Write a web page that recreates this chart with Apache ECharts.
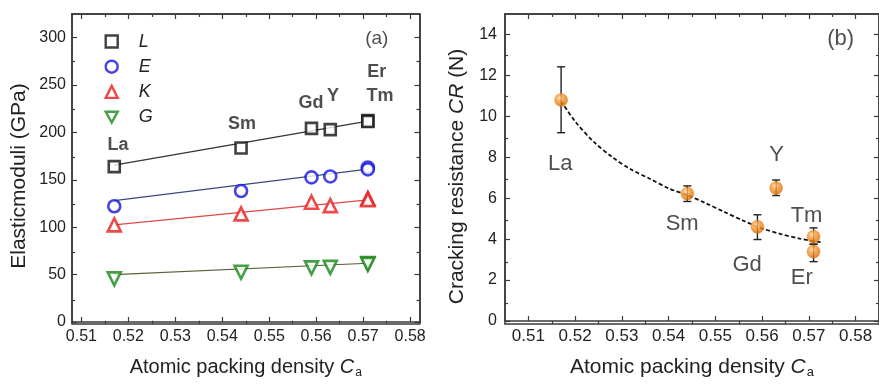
<!DOCTYPE html>
<html>
<head>
<meta charset="utf-8">
<script src="https://cdn.jsdelivr.net/npm/echarts@6/dist/echarts.min.js"></script>
<style>
  html, body { margin: 0; padding: 0; background: #fff; }
  #chart { width: 879px; height: 384px; }
</style>
</head>
<body>
<div id="chart"></div>
<script>
// panel (a): elastic moduli vs atomic packing density
const elemA = ["La", "Sm", "Gd", "Y", "Er", "Tm"];
const packA = [0.517, 0.544, 0.559, 0.563, 0.571, 0.571];
const modL = [164, 183.6, 204.3, 203, 212.5, 211.5];
const modE = [122.1, 138.2, 152.6, 153.6, 163, 161];
const modK = [102.5, 114.1, 126.4, 122.8, 130.5, 129];
const modG = [45.5, 52.5, 57.1, 57.6, 61.6, 60.8];

// linear fits drawn in (a), read at their two ends
const fitX = [0.517, 0.571];
const fitL = [165.5, 212];
const fitE = [128, 161.3];
const fitK = [102.5, 128.8];
const fitG = [50, 62];

// element labels in (a), placed in data units
const tagA = ["La", "Sm", "Gd", "Y", "Er", "Tm"];
const tagAx = [0.5178, 0.5442, 0.5589, 0.5636, 0.5729, 0.5736];
const tagAy = [187, 208.4, 230.6, 238, 264, 238];
const panelA = ["(a)"];
const panelAx = [0.5729];
const panelAy = [299];

// panel (b): cracking resistance
const elemB = ["La", "Sm", "Gd", "Y", "Tm", "Er"];
const packB = [0.517, 0.544, 0.559, 0.563, 0.571, 0.571];
const crack = [10.8, 6.22, 4.6, 6.5, 4.12, 3.39];
const crackLo = [9.2, 5.84, 3.98, 6.13, 3.75, 2.9];
const crackHi = [12.42, 6.6, 5.19, 6.89, 4.55, 3.75];

// dashed trend curve in (b)
const curveX = [0.517, 0.520, 0.524, 0.528, 0.532, 0.536, 0.540, 0.544, 0.548, 0.552, 0.556, 0.560, 0.564, 0.568, 0.5725];
const curveY = [10.75, 9.75, 8.75, 8.0, 7.4, 6.95, 6.48, 6.15, 5.75, 5.32, 4.9, 4.52, 4.25, 4.03, 3.85];

const tagB = ["La", "Sm", "Gd", "Y", "Tm", "Er", "(b)"];
const tagBx = [0.5168, 0.5429, 0.5568, 0.5631, 0.5695, 0.5685, 0.5768];
const tagBy = [7.65, 4.75, 2.75, 8.1, 5.12, 2.12, 13.8];

// ticks
const ticksXA = [0.51, 0.52, 0.53, 0.54, 0.55, 0.56, 0.57, 0.58];
const minorXA = [0.515, 0.525, 0.535, 0.545, 0.555, 0.565, 0.575];
const ticksYA = [0, 50, 100, 150, 200, 250, 300];
const minorYA = [25, 75, 125, 175, 225, 275];
const ticksXB = ticksXA;
const minorXB = minorXA;
const ticksYB = [0, 2, 4, 6, 8, 10, 12, 14];
const minorYB = [1, 3, 5, 7, 9, 11, 13];

const FONT = '"Liberation Sans", Arial, Helvetica, sans-serif';
const INK = "#222";
const AXIS = "#3a3a3a";

const rangeXA = [0.508, 0.582];
const rangeYA = [0, 325];
const rangeXB = [0.505, 0.585];
const rangeYB = [0, 15];

const gridA = { left: 72, top: 14, width: 347.5, height: 309.7 };
const gridB = { left: 505, top: 14, width: 381, height: 310 };

function axis(gridIndex, position, range, ticks, len, label) {
  return {
    type: "value",
    gridIndex,
    position,
    min: range[0],
    max: range[1],
    axisLine: { show: true, onZero: false, lineStyle: { color: AXIS, width: 1.5 } },
    axisTick: { show: true, inside: true, length: len, customValues: ticks, lineStyle: { color: AXIS, width: 1.2 } },
    axisLabel: label
      ? Object.assign({ show: true, customValues: ticks, color: INK, fontFamily: FONT, fontSize: 16 }, label)
      : { show: false },
    splitLine: { show: false },
  };
}

function pairs(xs, ys) {
  return xs.map((x, i) => [x, ys[i]]);
}

const nameStyle = (size) => ({
  fontFamily: FONT,
  fontSize: size,
  color: INK,
  rich: {
    i: { fontFamily: FONT, fontSize: size, fontStyle: "italic", color: INK },
    sub: { fontFamily: FONT, fontSize: Math.round(size * 0.6), color: INK, padding: [11, 0, 0, 1] },
  },
});

const xAxes = [
  Object.assign(axis(0, "bottom", rangeXA, ticksXA, 5, { margin: 7 }), {
    name: "Atomic packing density {i|C}{sub|a}",
    nameLocation: "middle",
    nameGap: 34,
    nameTextStyle: nameStyle(20),
  }),
  axis(0, "top", rangeXA, ticksXA, 5, null),
  axis(1, "bottom", rangeXA, minorXA, 3, null),
  axis(1, "top", rangeXA, minorXA, 3, null),
  Object.assign(axis(2, "bottom", rangeXB, ticksXB, 5, { margin: 7, fontSize: 17 }), {
    name: "Atomic packing density {i|C}{sub|a}",
    nameLocation: "middle",
    nameGap: 34,
    nameTextStyle: nameStyle(21),
  }),
  axis(2, "top", rangeXB, ticksXB, 5, null),
  axis(3, "bottom", rangeXB, minorXB, 3, null),
  axis(3, "top", rangeXB, minorXB, 3, null),
];

const yAxes = [
  Object.assign(axis(0, "left", rangeYA, ticksYA, 5, { margin: 6 }), {
    name: "Elasticmoduli (GPa)",
    nameLocation: "middle",
    nameRotate: 90,
    nameGap: 42,
    nameTextStyle: Object.assign(nameStyle(21), { padding: [0, 16, 0, 0] }),
  }),
  axis(0, "right", rangeYA, ticksYA, 5, null),
  axis(1, "left", rangeYA, minorYA, 3, null),
  axis(1, "right", rangeYA, minorYA, 3, null),
  Object.assign(axis(2, "left", rangeYB, ticksYB, 5, { margin: 8 }), {
    name: "Cracking resistance {i|CR} (N)",
    nameLocation: "middle",
    nameRotate: 90,
    nameGap: 37,
    nameTextStyle: Object.assign(nameStyle(21), { padding: [0, 18, 0, 0] }),
  }),
  axis(2, "right", rangeYB, ticksYB, 5, null),
  axis(3, "left", rangeYB, minorYB, 3, null),
  axis(3, "right", rangeYB, minorYB, 3, null),
];

function fitLine(ys, color) {
  return {
    type: "line",
    xAxisIndex: 0,
    yAxisIndex: 0,
    data: pairs(fitX, ys),
    showSymbol: false,
    silent: true,
    lineStyle: { color, width: 1.2 },
    z: 2,
  };
}

function markers(name, ys, symbol, size, color, rotate) {
  return {
    type: "scatter",
    name,
    xAxisIndex: 0,
    yAxisIndex: 0,
    data: pairs(packA, ys),
    symbol,
    symbolSize: size,
    symbolRotate: rotate || 0,
    itemStyle: { color: "#fff", borderColor: color, borderWidth: 2.6 },
    z: 3,
  };
}

function tags(xi, yi, xs, ys, names, size, weight) {
  return {
    type: "scatter",
    xAxisIndex: xi,
    yAxisIndex: yi,
    data: xs.map((x, i) => ({ name: names[i], value: [x, ys[i]] })),
    symbolSize: 1,
    itemStyle: { color: "rgba(0,0,0,0)" },
    silent: true,
    label: {
      show: true,
      position: "inside",
      formatter: (p) => p.name,
      fontFamily: FONT,
      fontSize: size,
      fontWeight: weight,
      color: INK,
    },
    z: 5,
  };
}

const ICON_INV_TRI = "path://M0,0L10,0L5,9Z";
const legendItem = (name, icon, color) => ({
  name,
  icon,
  itemStyle: { color: "#fff", borderColor: color, borderWidth: 2.4 },
});

const sphere = {
  type: "radial",
  x: 0.4,
  y: 0.35,
  r: 0.65,
  colorStops: [
    { offset: 0, color: "#ffe0b0" },
    { offset: 0.35, color: "#f9a03a" },
    { offset: 1, color: "#d96a05" },
  ],
};

const option = {
  animation: false,
  backgroundColor: "#fff",
  textStyle: { fontFamily: FONT },
  grid: [gridA, gridA, gridB, gridB],
  xAxis: xAxes,
  yAxis: yAxes,
  legend: {
    orient: "vertical",
    left: 104.5,
    top: 32.5,
    padding: 0,
    itemWidth: 12,
    itemHeight: 12,
    itemGap: 7.2,
    selectedMode: false,
    textStyle: { fontFamily: FONT, fontSize: 18, fontStyle: "italic", color: INK, padding: [0, 0, 0, 16] },
    data: [
      legendItem("L", "rect", "#111"),
      legendItem("E", "circle", "#1515e0"),
      legendItem("K", "triangle", "#e81c1c"),
      legendItem("G", ICON_INV_TRI, "#178a17"),
    ],
  },
  series: [
    fitLine(fitL, "#333"),
    fitLine(fitE, "#3a4a80"),
    fitLine(fitK, "#e04848"),
    fitLine(fitG, "#5a6238"),
    markers("L", modL, "rect", 11, "#111"),
    markers("E", modE, "circle", 12, "#1515e0"),
    markers("K", modK, "triangle", 13, "#e81c1c"),
    markers("G", modG, "triangle", 13, "#178a17", 180),
    tags(0, 0, tagAx, tagAy, tagA, 18, "bold"),
    tags(0, 0, panelAx, panelAy, panelA, 19, "normal"),
    {
      type: "line",
      xAxisIndex: 4,
      yAxisIndex: 4,
      data: pairs(curveX, curveY),
      smooth: 0.3,
      showSymbol: false,
      silent: true,
      lineStyle: { color: "#111", width: 1.8, type: [4, 2.5] },
      z: 2,
    },
    {
      type: "custom",
      xAxisIndex: 4,
      yAxisIndex: 4,
      data: packB.map((x, i) => [x, crack[i], crackLo[i], crackHi[i]]),
      silent: true,
      renderItem: (params, api) => {
        const top = api.coord([api.value(0), api.value(3)]);
        const bot = api.coord([api.value(0), api.value(2)]);
        const w = 4;
        const style = { stroke: "#222", lineWidth: 1.4 };
        return {
          type: "group",
          children: [
            { type: "line", shape: { x1: top[0], y1: top[1], x2: bot[0], y2: bot[1] }, style },
            { type: "line", shape: { x1: top[0] - w, y1: top[1], x2: top[0] + w, y2: top[1] }, style },
            { type: "line", shape: { x1: bot[0] - w, y1: bot[1], x2: bot[0] + w, y2: bot[1] }, style },
          ],
        };
      },
      z: 3,
    },
    {
      type: "scatter",
      xAxisIndex: 4,
      yAxisIndex: 4,
      data: pairs(packB, crack),
      symbolSize: 13,
      itemStyle: { color: sphere, borderColor: "#e07a10", borderWidth: 0.5 },
      z: 4,
    },
    tags(4, 4, tagBx, tagBy, tagB, 22, "normal"),
  ],
};

const chart = echarts.init(document.getElementById("chart"));
chart.setOption(option);
</script>
</body>
</html>
